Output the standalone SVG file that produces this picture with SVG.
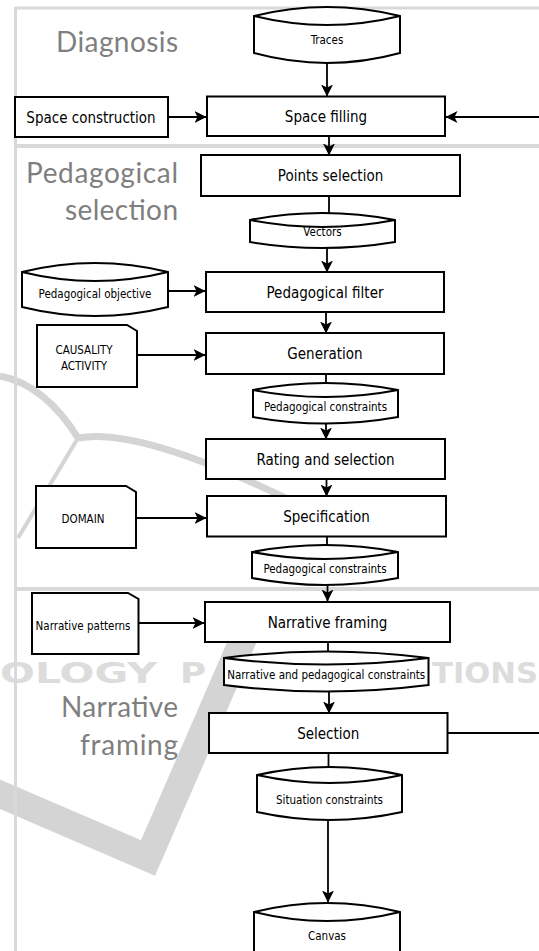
<svg xmlns="http://www.w3.org/2000/svg" width="539" height="951" viewBox="0 0 539 951">
<style>
.box{fill:#fff;stroke:#000;stroke-width:2}
.inner{fill:none;stroke:#000;stroke-width:2}
.t{font-family:'DejaVu Sans Condensed','DejaVu Sans',sans-serif;font-stretch:condensed;font-size:15px;text-anchor:middle;fill:#000}
.s{font-size:11.5px}
.lbl{font-family:Lato,'Open Sans',sans-serif;font-size:28px;fill:#7f7f7f;text-anchor:end}
.conn{stroke:#000;stroke-width:1.8;fill:none}
.arr{marker-end:url(#ah)}
.frame{stroke:#d9d9d9;fill:none}
.wm{fill:none;stroke:#d4d4d4}
.wmt{font-family:'DejaVu Sans',sans-serif;font-weight:bold;font-size:29px;fill:#dcdcdc}
</style>
<defs>
<marker id="ah" viewBox="0 0 12 12" refX="11.5" refY="6" markerWidth="12" markerHeight="12" markerUnits="userSpaceOnUse" orient="auto">
<path d="M0,0 L12,6 L0,12 L3,6 z" fill="#000"/>
</marker>
</defs>
<rect width="539" height="951" fill="#fff"/>
<g id="watermark">
<path class="wm" d="M0,376 Q45,385 78,438" stroke-width="7"/>
<path class="wm" d="M78,438 Q140,426 300,505" stroke-width="7"/>
<path class="wm" d="M78,438 L18,538" stroke-width="4"/>
<polyline class="wm" points="-10,790 148,858 255,612" stroke-width="27" stroke-linejoin="miter"/>
<text class="wmt" x="0" y="683" textLength="157" lengthAdjust="spacingAndGlyphs">OLOGY</text>
<text class="wmt" x="180" y="683" textLength="26" lengthAdjust="spacingAndGlyphs">P</text>
<text class="wmt" x="432" y="683" textLength="106" lengthAdjust="spacingAndGlyphs">TIONS</text>
</g>
<g id="frame">
<line class="frame" x1="15.5" y1="7" x2="15.5" y2="951" stroke-width="3"/>
<line class="frame" x1="15" y1="8" x2="539" y2="8" stroke-width="3"/>
<line class="frame" x1="15" y1="146" x2="539" y2="146" stroke-width="4"/>
<line class="frame" x1="15" y1="589" x2="539" y2="589" stroke-width="4"/>
</g>
<g id="labels">
<text class="lbl" x="178" y="52" textLength="122">Diagnosis</text>
<text class="lbl" x="178" y="183" textLength="152">Pedagogical</text>
<text class="lbl" x="178" y="220" textLength="113">selection</text>
<text class="lbl" x="178" y="717" textLength="117">Narrative</text>
<text class="lbl" x="178" y="755" textLength="98">framing</text>
</g>
<g id="connectors">
<line class="conn arr" x1="327" y1="63" x2="327" y2="96"/>
<line class="conn arr" x1="168" y1="117" x2="206" y2="117"/>
<line class="conn arr" x1="539" y1="117" x2="446" y2="117"/>
<line class="conn arr" x1="329" y1="136" x2="329" y2="155"/>
<line class="conn" x1="329" y1="196" x2="329" y2="214"/>
<line class="conn arr" x1="327" y1="248" x2="327" y2="272"/>
<line class="conn arr" x1="168" y1="291" x2="205" y2="291"/>
<line class="conn arr" x1="326" y1="312" x2="326" y2="333"/>
<line class="conn arr" x1="137" y1="355" x2="205" y2="355"/>
<line class="conn" x1="326" y1="374" x2="326" y2="384"/>
<line class="conn arr" x1="326" y1="423" x2="326" y2="439"/>
<line class="conn arr" x1="326.5" y1="479" x2="326.5" y2="496"/>
<line class="conn arr" x1="136" y1="518" x2="206" y2="518"/>
<line class="conn" x1="327" y1="536" x2="327" y2="546"/>
<line class="conn arr" x1="327.5" y1="585" x2="327.5" y2="601"/>
<line class="conn arr" x1="138.5" y1="623" x2="204" y2="623"/>
<line class="conn" x1="328" y1="642" x2="328" y2="652"/>
<line class="conn arr" x1="329" y1="691" x2="329" y2="713"/>
<line class="conn" x1="448" y1="733" x2="539" y2="733"/>
<line class="conn" x1="328.5" y1="753" x2="328.5" y2="768"/>
<line class="conn arr" x1="328" y1="820" x2="328" y2="902"/>
</g>
<g id="traces">
<path class="box" d="M254,16 Q327,-2 400,16 L400,53 Q327,73 254,53 Z"/>
<path class="inner" d="M254,16 Q327,34 400,16"/>
<text class="t s" x="327" y="44">Traces</text>
</g>
<g id="space-construction">
<rect class="box" x="15" y="97" width="153" height="40"/>
<text class="t" x="91" y="122.5">Space construction</text>
</g>
<g id="space-filling">
<rect class="box" x="207" y="96.5" width="238" height="39.5"/>
<text class="t" x="326" y="122">Space filling</text>
</g>
<g id="points-selection">
<rect class="box" x="201" y="155" width="259" height="41"/>
<text class="t" x="330.5" y="181">Points selection</text>
</g>
<g id="vectors">
<path class="box" d="M250,220 Q322.5,206 395,220 L395,242 Q322.5,254 250,242 Z"/>
<path class="inner" d="M250,220 Q322.5,234 395,220"/>
<text class="t s" x="322.5" y="235.5">Vectors</text>
</g>
<g id="pedagogical-objective">
<path class="box" d="M22,272 Q95,254 168,272 L168,307 Q95,325 22,307 Z"/>
<path class="inner" d="M22,272 Q95,290 168,272"/>
<text class="t s" x="95" y="298">Pedagogical objective</text>
</g>
<g id="pedagogical-filter">
<rect class="box" x="206" y="272" width="238" height="40"/>
<text class="t" x="325" y="297.5">Pedagogical filter</text>
</g>
<g id="causality-activity">
<path class="box" d="M37,325 L127,325 L137,331 L137,387 L37,387 Z"/>
<text class="t s" x="84" y="354">CAUSALITY</text>
<text class="t s" x="84" y="370">ACTIVITY</text>
</g>
<g id="generation">
<rect class="box" x="206" y="333" width="238" height="41"/>
<text class="t" x="325" y="359">Generation</text>
</g>
<g id="pedagogical-constraints-1">
<path class="box" d="M253,390 Q325.5,376 398,390 L398,417 Q325.5,430 253,417 Z"/>
<path class="inner" d="M253,390 Q325.5,404 398,390"/>
<text class="t s" x="325.5" y="410.5">Pedagogical constraints</text>
</g>
<g id="rating-and-selection">
<rect class="box" x="206" y="439" width="239" height="40"/>
<text class="t" x="325.5" y="464.5">Rating and selection</text>
</g>
<g id="domain">
<path class="box" d="M36,486 L126,486 L136,492 L136,548 L36,548 Z"/>
<text class="t s" x="83" y="523">DOMAIN</text>
</g>
<g id="specification">
<rect class="box" x="207" y="496" width="239" height="40.5"/>
<text class="t" x="326.5" y="522">Specification</text>
</g>
<g id="pedagogical-constraints-2">
<path class="box" d="M252,552 Q325,538 398,552 L398,578 Q325,592 252,578 Z"/>
<path class="inner" d="M252,552 Q325,566 398,552"/>
<text class="t s" x="325" y="573">Pedagogical constraints</text>
</g>
<g id="narrative-patterns">
<path class="box" d="M32,593 L128,593 L138.5,599 L138.5,654 L32,654 Z"/>
<text class="t s" x="83" y="630">Narrative patterns</text>
</g>
<g id="narrative-framing">
<rect class="box" x="205" y="602" width="245" height="40"/>
<text class="t" x="327.5" y="627.5">Narrative framing</text>
</g>
<g id="narrative-pedagogical-constraints">
<path class="box" d="M224,658 Q326.25,645 428.5,658 L428.5,685 Q326.25,698 224,685 Z"/>
<path class="inner" d="M224,658 Q326.25,671 428.5,658"/>
<text class="t s" x="326.25" y="679">Narrative and pedagogical constraints</text>
</g>
<g id="selection">
<rect class="box" x="209" y="713" width="238.5" height="40"/>
<text class="t" x="328.25" y="739">Selection</text>
</g>
<g id="situation-constraints">
<path class="box" d="M257,775 Q329.5,759 402,775 L402,812 Q329.5,828 257,812 Z"/>
<path class="inner" d="M257,775 Q329.5,791 402,775"/>
<text class="t s" x="329.5" y="803.5">Situation constraints</text>
</g>
<g id="canvas">
<path class="box" d="M254,912 Q327,894 400,912 L400,960 L254,960 Z"/>
<path class="inner" d="M254,912 Q327,930 400,912"/>
<text class="t s" x="327" y="939.5">Canvas</text>
</g>
</svg>
